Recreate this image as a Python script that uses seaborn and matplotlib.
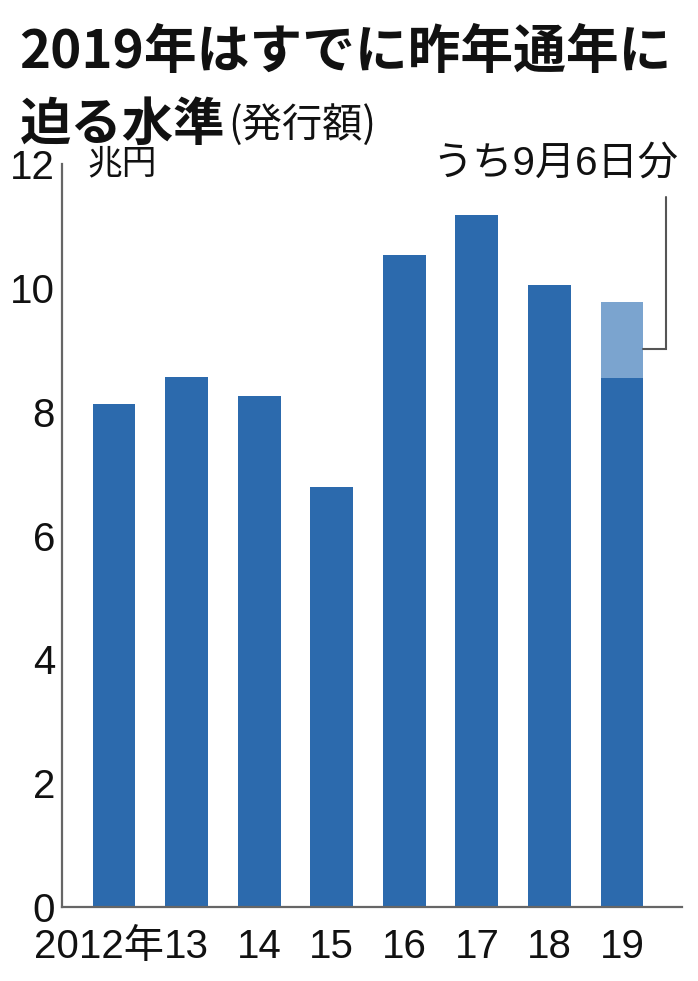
import numpy as np
import pandas as pd
import matplotlib
matplotlib.use('Agg')
import matplotlib.pyplot as plt
import matplotlib.transforms as mtransforms
import seaborn as sns

# data (兆円)
years = ['2012', '2013', '2014', '2015', '2016', '2017', '2018', '2019']
year_labels = ['2012年', '13', '14', '15', '16', '17', '18', '19']
base = [8.12, 8.56, 8.25, 6.78, 10.53, 11.17, 10.04, 8.54]
sep6 = [0, 0, 0, 0, 0, 0, 0, 1.23]   # うち9月6日分
yticks = [0, 2, 4, 6, 8, 10, 12]

df = pd.DataFrame({'year': years, 'base': base, 'sep6': sep6})
df['total'] = df['base'] + df['sep6']

dark = '#2c6aad'
light = '#7ba4cf'
grey = '#666666'
ink = '#111111'

sns.set_style('white')
plt.rcParams['font.family'] = ['Liberation Sans', 'Noto Sans CJK JP', 'DejaVu Sans']
plt.rcParams['text.color'] = ink
plt.rcParams['xtick.color'] = ink
plt.rcParams['ytick.color'] = ink

fig = plt.figure(figsize=(6.98, 9.81), dpi=100)
ax = fig.add_axes([0.0888, 0.0754, 0.8883, 0.7574])

sns.barplot(data=df, x='year', y='total', color=light, saturation=1,
            width=0.59, linewidth=0, ax=ax)
sns.barplot(data=df, x='year', y='base', color=dark, saturation=1,
            width=0.59, linewidth=0, ax=ax)

ax.set_xlim(-0.717, 7.827)
ax.set_ylim(0, 12)
ax.set_yticks(yticks)
ax.set_yticklabels([str(v) for v in yticks])
ax.set_xticks(range(len(years)))
ax.set_xticklabels(year_labels)
ax.set_xlabel('')
ax.set_ylabel('')

for s in ['top', 'right']:
    ax.spines[s].set_visible(False)
for s in ['left', 'bottom']:
    ax.spines[s].set_color(grey)
    ax.spines[s].set_linewidth(1.6)

ax.tick_params(axis='y', direction='in', length=11, width=1.4, color=grey,
               labelcolor=ink, labelsize=29, pad=5)
ax.tick_params(axis='x', length=0, labelsize=29, pad=15, labelcolor=ink)
ax.set_axisbelow(False)

# shift the first x label a little to the left
lbl0 = ax.get_xticklabels()[0]
lbl0.set_transform(lbl0.get_transform() +
                   mtransforms.ScaledTranslation(-15 / 100, 0, fig.dpi_scale_trans))

# unit label
ax.text(-0.36, 12, '兆円', fontsize=25, va='center', ha='left',
        family=['Noto Sans CJK JP'])

# annotation for 2019 portion
ax.plot([7.295, 7.607, 7.607], [9.02, 9.02, 11.47], color='#555555', lw=1.5,
        clip_on=False, solid_joinstyle='miter')
ax.text(7.77, 12.0, 'うち9月6日分', fontsize=29, va='center', ha='right')

# title
fig.text(0.028, 0.946, '2019年はすでに昨年通年に', fontsize=38, fontweight='bold',
         va='center', ha='left', family=['Noto Sans CJK JP'], color=ink)
t2 = fig.text(0.028, 0.873, '迫る水準', fontsize=37, fontweight='bold',
              va='center', ha='left', family=['Noto Sans CJK JP'], color=ink)
ax.annotate('(発行額)', xy=(1, 0.5), xycoords=t2, xytext=(2, 0),
            textcoords='offset points', fontsize=29, va='center', ha='left',
            family=['Noto Sans CJK JP'], annotation_clip=False, color=ink)

plt.savefig('out.png', dpi=100)
